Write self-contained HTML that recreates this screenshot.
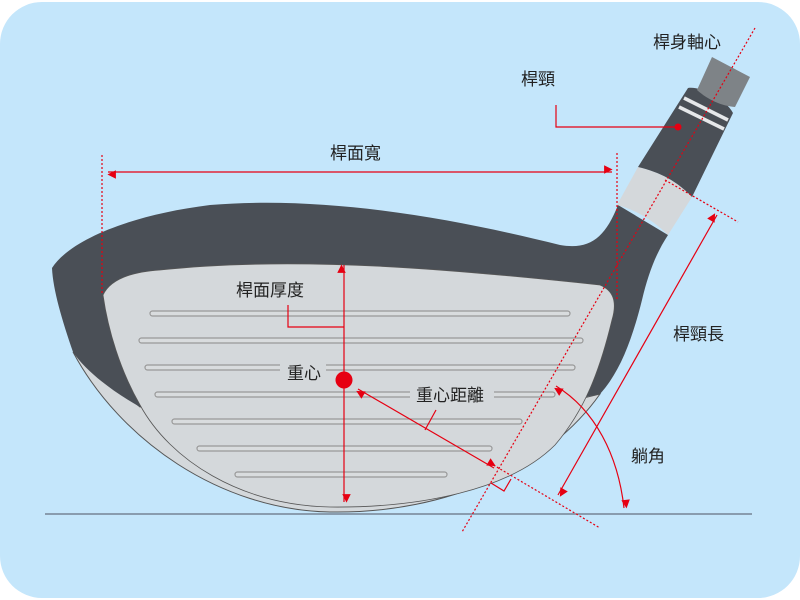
<!DOCTYPE html>
<html><head><meta charset="utf-8"><style>
html,body{margin:0;padding:0;background:#fff;}
svg{display:block}
text{font-family:"Liberation Sans","Noto Sans CJK TC",sans-serif;font-size:17px;fill:#222;}
</style></head><body>
<svg width="800" height="600" viewBox="0 0 800 600" xmlns="http://www.w3.org/2000/svg">
<defs>
<marker id="a" viewBox="0 0 10 10" refX="9" refY="5" markerWidth="5" markerHeight="5" orient="auto-start-reverse" markerUnits="userSpaceOnUse" style="overflow:visible"><path d="M0,0 L10,5 L0,10 Z" fill="#e60012" transform="scale(1.7) translate(-4,-5) translate(0,5) translate(0,-5)"/></marker>
</defs>
<rect x="0" y="2" width="800" height="596" rx="42" fill="#c4e6fb"/>
<!-- sole -->
<path d="M73,352 C120,440 220,510 330,512 C450,514 550,465 600,394 L575,400 L140,407 Z" fill="#d4d8db" stroke="#555" stroke-width="1"/>
<!-- dark body -->
<path d="M52,268 C70,240 130,215 210,205 C330,195 460,220 560,245 C590,250 605,238 618,205 L668,235 C655,255 648,275 642,300 C632,340 620,372 600,394 C560,402 540,405 520,408 C400,410 250,410 140,407 C110,390 85,370 73,352 C62,320 53,290 52,268 Z" fill="#4a4f56"/>
<!-- face -->
<path d="M103,295 C110,280 130,272 160,270 C300,255 460,270 600,285 C612,290 618,300 612,320 C600,370 585,410 555,445 C510,490 420,508 330,507 C240,505 170,460 140,405 C120,370 108,330 103,295 Z" fill="#d4d8db" stroke="#555" stroke-width="0.8"/>
<!-- grooves -->
<g fill="#d9dcde" stroke="#999" stroke-width="1.2">
<rect x="150" y="311" width="420" height="5" rx="2.5"/>
<rect x="139" y="338" width="444" height="5" rx="2.5"/>
<rect x="145" y="365" width="430" height="5" rx="2.5"/>
<rect x="155" y="392" width="400" height="5" rx="2.5"/>
<rect x="172" y="419" width="350" height="5" rx="2.5"/>
<rect x="197" y="446" width="295" height="5" rx="2.5"/>
<rect x="235" y="472" width="212" height="5" rx="2.5"/>
</g>
<!-- neck -->
<path d="M617,205 L638,167 C660,172 678,182 692,197 L668,235 C655,222 637,210 617,205 Z" fill="#d4d8db"/>
<path d="M638,167 L688,88 C700,86 725,98 733,113 L692,197 C678,182 660,172 638,167 Z" fill="#4a4f56"/>
<path d="M712,57 L750,77 L735,107 C722,106 708,100 697,90 Z" fill="#7e8387"/>
<path d="M684,98 L728,120 M679,107 L724,129" stroke="#e6e8ea" stroke-width="3.5"/>
<!-- ground -->
<line x1="45" y1="514" x2="752" y2="514" stroke="#667080" stroke-width="1.2"/>
<!-- red annotations -->
<g stroke="#e60012" fill="none" stroke-width="1.2">
<line x1="755" y1="28" x2="462" y2="532" stroke-dasharray="2,2"/>
<line x1="102" y1="155" x2="102" y2="295" stroke-dasharray="2,2"/>
<line x1="617" y1="153" x2="617" y2="300" stroke-dasharray="2,2"/>
<line x1="665" y1="180" x2="738" y2="222" stroke-dasharray="2,2"/>
<line x1="490" y1="463" x2="600" y2="528" stroke-dasharray="2,2"/>
<line x1="108" y1="172" x2="612" y2="172" marker-start="url(#a)" marker-end="url(#a)"/>
<line x1="344" y1="265" x2="344" y2="502" marker-start="url(#a)" marker-end="url(#a)"/>
<polyline points="288,305 288,327 344,327"/>
<line x1="358" y1="389" x2="494" y2="468" marker-start="url(#a)" marker-end="url(#a)"/>
<line x1="436" y1="410" x2="425" y2="430"/>
<polyline points="491,483 504,491 511,479"/>
<line x1="717" y1="215" x2="558" y2="495" marker-start="url(#a)" marker-end="url(#a)"/>
<path d="M556,386 C595,410 618,455 624,508" marker-start="url(#a)" marker-end="url(#a)"/>
<polyline points="556,105 556,127 678,127"/>
</g>
<circle cx="344" cy="380" r="8.5" fill="#e60012"/>
<circle cx="678" cy="127" r="3.5" fill="#e60012"/>
<!-- labels -->
<rect x="226" y="276" width="92" height="22" fill="#d4d8db"/>
<rect x="280" y="361" width="46" height="24" fill="#d4d8db"/>
<rect x="410" y="383" width="84" height="22" fill="#d4d8db"/>
<text x="653" y="48">桿身軸心</text>
<text x="521" y="85">桿頸</text>
<text x="330" y="159">桿面寬</text>
<text x="236" y="296">桿面厚度</text>
<text x="287" y="379">重心</text>
<text x="416" y="401">重心距離</text>
<text x="673" y="340">桿頸長</text>
<text x="631" y="462">躺角</text>
</svg>
</body></html>
